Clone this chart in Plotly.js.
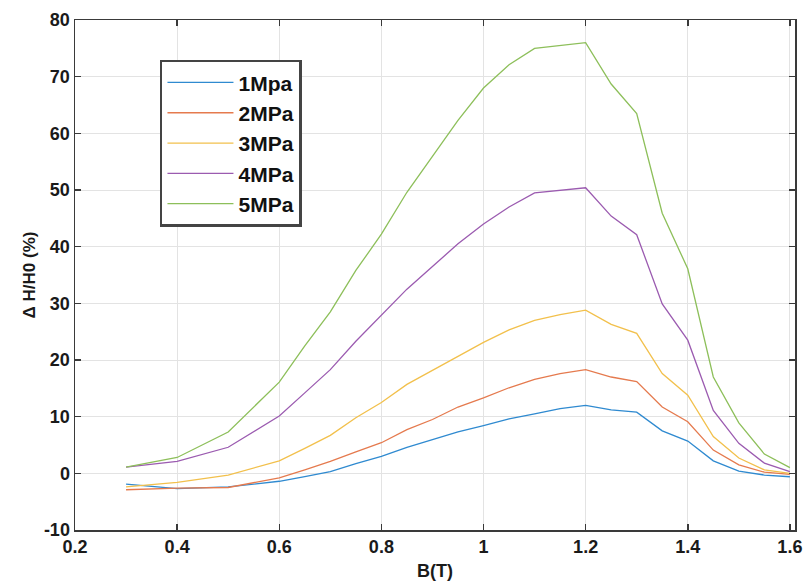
<!DOCTYPE html>
<html>
<head>
<meta charset="utf-8">
<script src="https://cdn.plot.ly/plotly-3.0.1.min.js"></script>
<style>html,body{margin:0;padding:0;background:#fff;}#chart{width:804px;height:583px;}</style>
</head>
<body>
<div id="chart"></div>
<script>
const B = [0.3, 0.4, 0.5, 0.6, 0.65, 0.7, 0.75, 0.8, 0.85, 0.9, 0.95, 1.0, 1.05, 1.1, 1.15, 1.2, 1.25, 1.3, 1.35, 1.4, 1.45, 1.5, 1.55, 1.6];
const p1 = [-1.9, -2.7, -2.4, -1.4, -0.6, 0.3, 1.7, 3.0, 4.6, 5.9, 7.3, 8.4, 9.6, 10.5, 11.4, 12.0, 11.2, 10.8, 7.5, 5.7, 2.2, 0.4, -0.3, -0.6];
const p2 = [-2.9, -2.6, -2.5, -0.8, 0.6, 2.1, 3.8, 5.4, 7.7, 9.5, 11.7, 13.3, 15.1, 16.6, 17.6, 18.3, 17.0, 16.2, 11.7, 9.1, 4.1, 1.5, 0.2, -0.2];
const p3 = [-2.4, -1.6, -0.3, 2.2, 4.4, 6.7, 9.8, 12.5, 15.7, 18.2, 20.7, 23.1, 25.3, 27.0, 28.0, 28.8, 26.3, 24.7, 17.6, 13.8, 6.5, 2.7, 0.6, 0.0];
const p4 = [1.1, 2.1, 4.6, 10.1, 14.2, 18.3, 23.3, 27.9, 32.5, 36.5, 40.5, 44.0, 47.0, 49.5, 50.0, 50.4, 45.4, 42.1, 29.9, 23.5, 11.1, 5.3, 1.8, 0.3];
const p5 = [1.1, 2.8, 7.3, 16.1, 22.5, 28.5, 35.8, 42.2, 49.6, 56.0, 62.3, 68.0, 72.1, 75.0, 75.5, 76.0, 68.7, 63.5, 45.9, 36.1, 17.0, 8.9, 3.4, 1.0];
const names = ['1Mpa', '2MPa', '3MPa', '4MPa', '5MPa'];
const series = [p1, p2, p3, p4, p5];
const colors = ['#2f8ad0', '#e57a4e', '#f2c04c', '#9b5bb0', '#8dbf5a'];
const xTicks = [0.2, 0.4, 0.6, 0.8, 1, 1.2, 1.4, 1.6];
const yTicks = [-10, 0, 10, 20, 30, 40, 50, 60, 70, 80];

const traces = series.map((s, i) => ({
  x: B, y: s, type: 'scatter', mode: 'lines', name: names[i],
  line: {color: colors[i], width: 1.3},
  legendgroup: 'g' + i
}));

const fam = 'Liberation Sans, Arial, sans-serif';
const tickFont = {family: fam, size: 18, color: '#1a1a1a', weight: 'bold'};
const axisCommon = {
  showgrid: true, gridcolor: '#e3e3e3', gridwidth: 1,
  showline: true, linecolor: '#3a3a3a', linewidth: 1.5, mirror: 'ticks',
  ticks: 'inside', ticklen: 6, tickcolor: '#3a3a3a', tickwidth: 1.5,
  zeroline: false, tickfont: tickFont
};

const layout = {
  width: 804, height: 583,
  margin: {l: 75, r: 9, t: 20, b: 53},
  paper_bgcolor: '#ffffff', plot_bgcolor: '#ffffff',
  xaxis: Object.assign({}, axisCommon, {
    range: [0.2, 1.61], tickvals: xTicks, ticktext: xTicks.map(v => String(v)),
    title: {text: 'B(T)', font: {family: fam, size: 18, color: '#1a1a1a', weight: 'bold'}, standoff: 8}
  }),
  yaxis: Object.assign({}, axisCommon, {
    range: [-10, 80], tickvals: yTicks, ticktext: yTicks.map(v => String(v)),
    title: {text: 'Δ H/H0 (%)', font: {family: fam, size: 17, color: '#1a1a1a', weight: 'bold'}, standoff: 4}
  }),
  showlegend: true,
  legend: {
    x: 0.118, y: 0.922, xanchor: 'left', yanchor: 'top',
    bgcolor: '#ffffff', bordercolor: '#444444', borderwidth: 2.5,
    font: {family: fam, size: 21, color: '#111111', weight: 'bold'},
    tracegroupgap: 4, traceorder: 'normal', itemwidth: 66
  }
};

Plotly.newPlot('chart', traces, layout, {displayModeBar: false, staticPlot: true});
</script>
</body>
</html>
